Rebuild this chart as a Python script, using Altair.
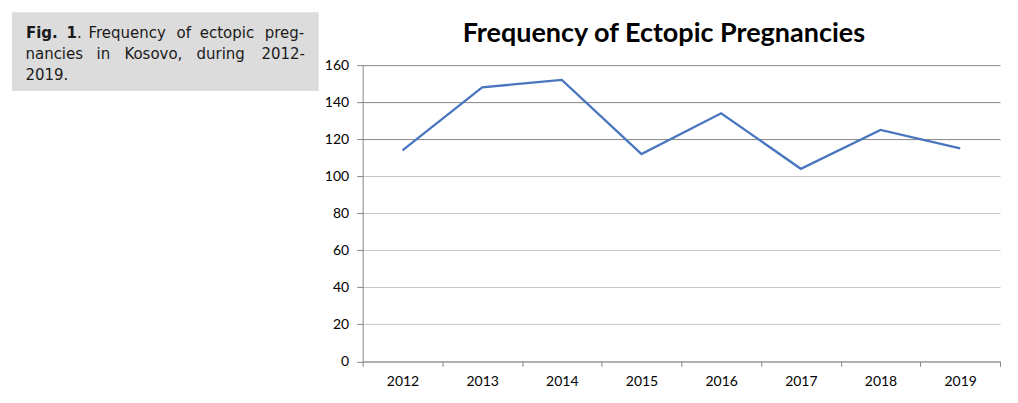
import altair as alt
import pandas as pd

# ---- data ----
years = ["2012", "2013", "2014", "2015", "2016", "2017", "2018", "2019"]
counts = [114, 148, 152, 112, 134, 104, 125, 115]

title_text = "Frequency of Ectopic Pregnancies"

# caption words (text) and their layout positions (page pixels)
cap_bold_words = ["Fig.", "1"]
cap_bold_x = [26, 66.5]
cap_bold_y = [37.5, 37.5]
cap_words = [".", "Frequency", "of", "ectopic", "preg-",
             "nancies", "in", "Kosovo,", "during", "2012-",
             "2019."]
cap_x = [77, 88.5, 176.7, 200, 265,
         25.5, 96.7, 124.5, 196.7, 261.7,
         25.5]
cap_y = [37.5, 37.5, 37.5, 37.5, 37.5,
         58.5, 58.5, 58.5, 58.5, 58.5,
         79.5]

OX, OY = 363, 65  # plot origin on page
W, H = 638, 296.5

df = pd.DataFrame({"year": years, "count": counts})

line = alt.Chart(df).mark_line(color="#4a76c0", strokeWidth=2.3).encode(
    x=alt.X("year:O",
            scale=alt.Scale(type="band", paddingInner=0, paddingOuter=0),
            axis=alt.Axis(title=None, labelAngle=0, tickBand="extent",
                          tickSize=5, tickColor="#868686", domainColor="#868686",
                          labelFont="Lato", labelFontSize=14, labelColor="#000000",
                          labelPadding=8, grid=False)),
    y=alt.Y("count:Q",
            scale=alt.Scale(domain=[0, 160], nice=False, zero=True),
            axis=alt.Axis(title=None, values=list(range(0, 161, 20)),
                          tickSize=6, tickColor="#868686", domainColor="#868686",
                          gridColor={"condition": {"test": "datum.value >= 120", "value": "#868686"},
                                     "value": "#c4c4c4"},
                          labelFont="Lato", labelFontSize=14, labelColor="#000000",
                          labelPadding=8, grid=True)),
)

rect = alt.Chart(pd.DataFrame({"a": [0]})).mark_rect(color="#dcdcdc").encode(
    x=alt.value(12 - OX), x2=alt.value(319 - OX),
    y=alt.value(12 - OY), y2=alt.value(91 - OY),
)

bold_df = pd.DataFrame({"t": cap_bold_words,
                        "px": [v - OX for v in cap_bold_x],
                        "py": [v - OY for v in cap_bold_y]})
norm_df = pd.DataFrame({"t": cap_words,
                        "px": [v - OX for v in cap_x],
                        "py": [v - OY for v in cap_y]})

cap_bold = alt.Chart(bold_df).mark_text(
    font="DejaVu Sans", fontSize=15, fontWeight="bold", color="#1a1a1a",
    align="left", baseline="alphabetic").encode(
    x=alt.X("px:Q", scale=None, axis=None),
    y=alt.Y("py:Q", scale=None, axis=None),
    text="t:N")

cap_norm = alt.Chart(norm_df).mark_text(
    font="DejaVu Sans", fontSize=15, color="#1a1a1a",
    align="left", baseline="alphabetic").encode(
    x=alt.X("px:Q", scale=None, axis=None),
    y=alt.Y("py:Q", scale=None, axis=None),
    text="t:N")

title = alt.Chart(pd.DataFrame({"t": [title_text]})).mark_text(
    font="Lato", fontSize=27, fontWeight="bold", color="#000000",
    align="center", baseline="alphabetic").encode(
    x=alt.value(664.5 - OX), y=alt.value(41.5 - OY), text="t:N")

chart = alt.layer(rect, cap_bold, cap_norm, title, line).resolve_scale(
    x="independent", y="independent"
).properties(
    width=W, height=H,
    padding={"left": 355, "top": 57, "right": 10, "bottom": 40},
    autosize=alt.AutoSizeParams(type="none"),
).configure_view(stroke=None)

chart.save("out.html", embed_options={"renderer": "svg", "actions": False})
